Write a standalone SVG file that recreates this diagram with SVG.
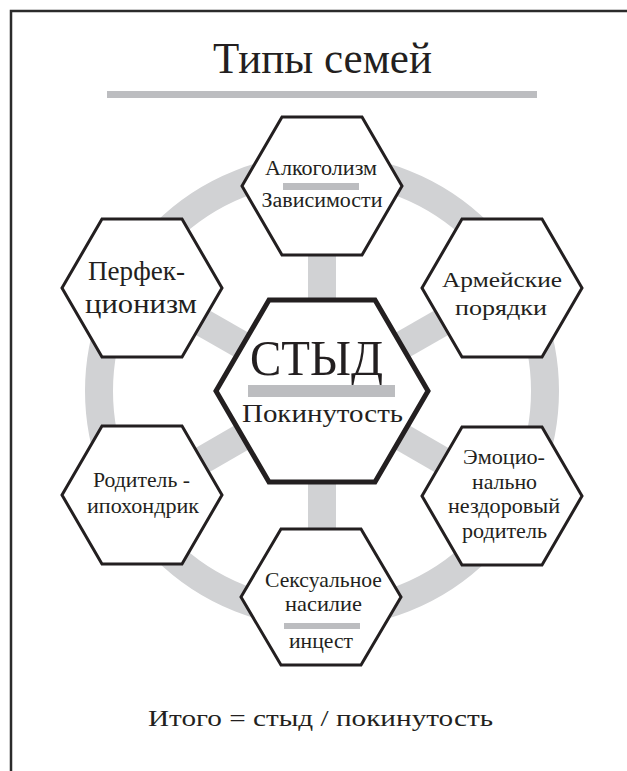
<svg xmlns="http://www.w3.org/2000/svg" width="627" height="771" viewBox="0 0 627 771">
<style>
.frame{fill:none;stroke:#2b2b2b;stroke-width:2.5}
.ring{fill:none;stroke:#d1d2d4;stroke-width:28}
.spoke{stroke:#d1d2d4;stroke-width:28}
.bar{fill:#bcbdc0}
.hex{fill:#fff;stroke:#231f20;stroke-width:3;stroke-linejoin:miter}
.hexc{fill:#fff;stroke:#231f20;stroke-width:5;stroke-linejoin:miter}
text{font-family:"Liberation Serif","DejaVu Serif",serif;fill:#231f20;text-anchor:middle}
</style>
<polyline class="frame" points="11,771 11,11 627,11"/>
<g id="title">
<text x="322.5" y="73" font-size="45" textLength="219" lengthAdjust="spacingAndGlyphs">Типы семей</text>
<rect class="bar" x="107" y="91" width="430" height="7"/>
</g>
<g id="connectors">
<circle class="ring" cx="322" cy="391" r="223"/>
<line class="spoke" x1="322" y1="391" x2="322" y2="186"/>
<line class="spoke" x1="322" y1="391" x2="322" y2="597"/>
<line class="spoke" x1="322" y1="391" x2="142" y2="288"/>
<line class="spoke" x1="322" y1="391" x2="502" y2="288"/>
<line class="spoke" x1="322" y1="391" x2="142" y2="495"/>
<line class="spoke" x1="322" y1="391" x2="502" y2="495"/>
</g>
<g id="node-top">
<polygon class="hex" points="282,117 362,117 402,186 362,255 282,255 242,186"/>
<text x="321" y="175" font-size="20" textLength="112" lengthAdjust="spacingAndGlyphs">Алкоголизм</text>
<rect class="bar" x="283" y="183" width="76" height="7"/>
<text x="322" y="207" font-size="20" textLength="121" lengthAdjust="spacingAndGlyphs">Зависимости</text>
</g>
<g id="node-upper-left">
<polygon class="hex" points="102,219 182,219 222,288 182,357 102,357 62,288"/>
<text x="136.5" y="280" font-size="27" textLength="97" lengthAdjust="spacingAndGlyphs">Перфек-</text>
<text x="141" y="313" font-size="27" textLength="112" lengthAdjust="spacingAndGlyphs">ционизм</text>
</g>
<g id="node-upper-right">
<polygon class="hex" points="462,219 542,219 582,288 542,357 462,357 422,288"/>
<text x="502" y="287" font-size="22" textLength="120" lengthAdjust="spacingAndGlyphs">Армейские</text>
<text x="501" y="315" font-size="22" textLength="92" lengthAdjust="spacingAndGlyphs">порядки</text>
</g>
<g id="node-center">
<polygon class="hexc" points="269,300 375,300 428,391 375,482 269,482 216,391"/>
<text x="316.5" y="375" font-size="50" textLength="133" lengthAdjust="spacingAndGlyphs">СТЫД</text>
<rect class="bar" x="248" y="385" width="147" height="12"/>
<text x="322.5" y="422" font-size="26" textLength="161" lengthAdjust="spacingAndGlyphs">Покинутость</text>
</g>
<g id="node-lower-left">
<polygon class="hex" points="102,426 182,426 222,495 182,564 102,564 62,495"/>
<text x="141.5" y="487" font-size="21" textLength="97" lengthAdjust="spacingAndGlyphs">Родитель -</text>
<text x="143" y="513" font-size="21" textLength="112" lengthAdjust="spacingAndGlyphs">ипохондрик</text>
</g>
<g id="node-lower-right">
<polygon class="hex" points="462,427 542,427 582,496 542,565 462,565 422,496"/>
<text x="504" y="464" font-size="21" textLength="82" lengthAdjust="spacingAndGlyphs">Эмоцио-</text>
<text x="504.5" y="489" font-size="21" textLength="65" lengthAdjust="spacingAndGlyphs">нально</text>
<text x="504" y="513" font-size="21" textLength="112" lengthAdjust="spacingAndGlyphs">нездоровый</text>
<text x="504.5" y="538" font-size="21" textLength="85" lengthAdjust="spacingAndGlyphs">родитель</text>
</g>
<g id="node-bottom">
<polygon class="hex" points="281,529 361,529 401,597 361,665 281,665 241,597"/>
<text x="323.5" y="587" font-size="21" textLength="117" lengthAdjust="spacingAndGlyphs">Сексуальное</text>
<text x="323.5" y="611" font-size="21" textLength="77" lengthAdjust="spacingAndGlyphs">насилие</text>
<rect class="bar" x="284" y="623" width="76" height="6"/>
<text x="321" y="648" font-size="21" textLength="64" lengthAdjust="spacingAndGlyphs">инцест</text>
</g>
<g id="footer">
<text x="320.5" y="726" font-size="24" textLength="345" lengthAdjust="spacingAndGlyphs">Итого = стыд / покинутость</text>
</g>
</svg>
